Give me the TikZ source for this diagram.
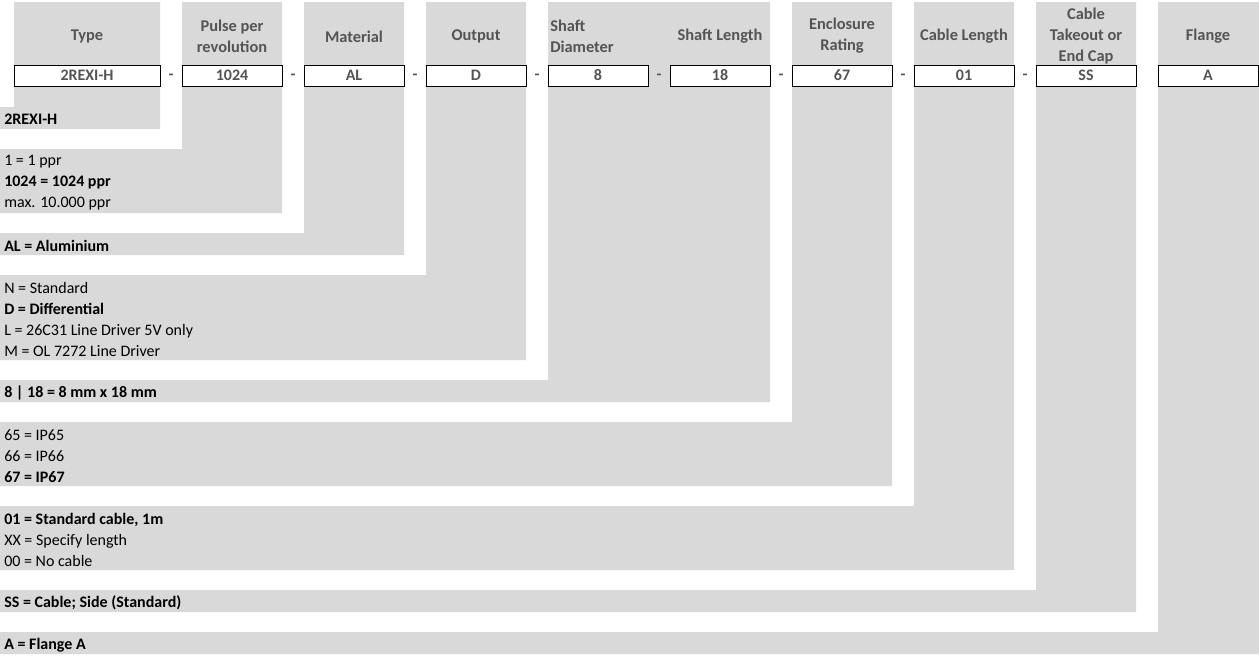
\documentclass[tikz,border=0pt]{standalone}
\usepackage{fontspec}
\setmainfont{Carlito}
\usepackage{xcolor}
\usepackage{tikz}
\definecolor{cellgray}{HTML}{D9D9D9}
\definecolor{headgray}{HTML}{545454}

\begin{document}
\begin{tikzpicture}[x=0.75pt, y=-0.75pt,
  head/.style={font=\fontsize{12.3}{15.75}\selectfont\bfseries, text=headgray, align=center, inner sep=0pt},
  codebox/.style={draw=black, line width=0.75pt, fill=white, minimum width=75pt, minimum height=15.75pt, inner sep=0pt, font=\fontsize{12}{15.75}\selectfont\bfseries, text=headgray},
  sep/.style={font=\fontsize{12}{15.75}\selectfont\bfseries, text=headgray, inner sep=0pt},
  desc/.style={font=\fontsize{12}{15.75}\selectfont, anchor=west, align=left, inner sep=0pt}]

\useasboundingbox (0,0) rectangle (1259,658);

% Gray columns with their option bands
\foreach \xa/\xb/\ya/\yb in {14/160/107/129, 182/282/149/213, 304/404/233/255,
    426/526/275/360, 548/770/380/402, 792/892/422/486, 914/1014/506/570,
    1036/1136/590/612, 1158/1259/632/654}
  \fill[cellgray] (\xa,2) rectangle (\xb,\yb) (0,\ya) rectangle (\xb,\yb);

% Headers
\node[head] (htype) at (87,36.5) {Type};
\node[head] (hpulse) at (232,36) {Pulse per\\revolution};
\node[head] (hmat) at (354,36.5) {Material};
\node[head] (hout) at (476,36.5) {Output};
\node[head, align=left, anchor=west] (hdia) at (550,36) {Shaft\\Diameter};
\node[head] (hlen) at (720,36.5) {Shaft Length};
\node[head] (hencl) at (842,36) {Enclosure\\Rating};
\node[head] (hcable) at (964,36.5) {Cable Length};
\node[head] (htake) at (1086,36.5) {Cable\\Takeout or\\End Cap};
\node[head] (hflange) at (1208,36.5) {Flange};

% Code boxes
\node[codebox, minimum width=109.5pt] (btype) at (87,75.5) {2REXI-H};
\node[codebox] (bpulse) at (232,75.5) {1024};
\node[codebox] (bmat) at (354,75.5) {AL};
\node[codebox] (bout) at (476,75.5) {D};
\node[codebox] (bdia) at (598,75.5) {8};
\node[codebox] (blen) at (720,75.5) {18};
\node[codebox] (bencl) at (842,75.5) {67};
\node[codebox] (bcable) at (964,75.5) {01};
\node[codebox] (btake) at (1086,75.5) {SS};
\node[codebox] (bflange) at (1208,75.5) {A};

% Dashes between boxes
\node[sep] (d1) at (171,77) {-};
\node[sep] (d2) at (293,77) {-};
\node[sep] (d3) at (415,77) {-};
\node[sep] (d4) at (537,77) {-};
\node[sep] (d5) at (659,77) {-};
\node[sep] (d6) at (781,77) {-};
\node[sep] (d7) at (903,77) {-};
\node[sep] (d8) at (1025,77) {-};

% Option texts
\node[desc] (otype) at (4,119.5) {\textbf{2REXI-H}};
\node[desc] (opulse) at (4,183) {1 = 1 ppr\\\textbf{1024 = 1024 ppr}\\max. 10.000 ppr};
\node[desc] (omat) at (4,246) {\textbf{AL = Aluminium}};
\node[desc] (oout) at (4,319.5) {N = Standard\\\textbf{D = Differential}\\L = 26C31 Line Driver 5V only\\M = OL 7272 Line Driver};
\node[desc] (oshaft) at (4,393) {\textbf{8 | 18 = 8 mm x 18 mm}};
\node[desc] (oencl) at (4,456) {65 = IP65\\66 = IP66\\\textbf{67 = IP67}};
\node[desc] (ocable) at (4,540) {\textbf{01 = Standard cable, 1m}\\XX = Specify length\\00 = No cable};
\node[desc] (otake) at (4,603) {\textbf{SS = Cable; Side (Standard)}};
\node[desc] (oflange) at (4,645) {\textbf{A = Flange A}};

\end{tikzpicture}
\end{document}
